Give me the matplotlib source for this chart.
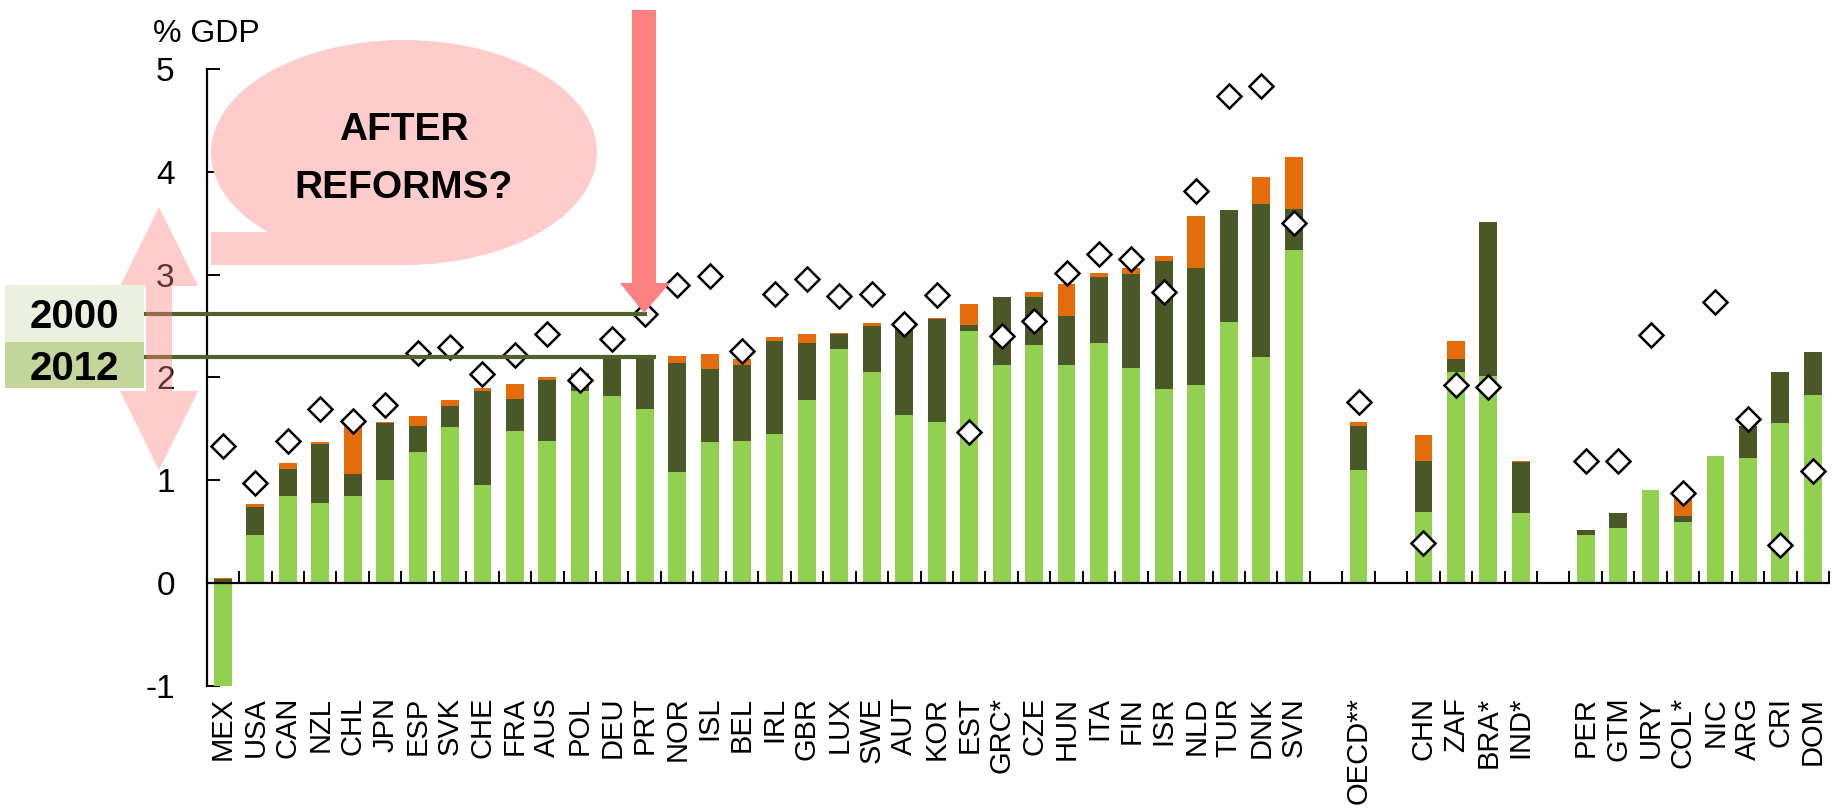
import numpy as np
import matplotlib.pyplot as plt
from matplotlib.patches import Ellipse, Polygon, Rectangle

plt.rcParams['font.family'] = ['Liberation Sans', 'DejaVu Sans']
plt.rcParams['axes.unicode_minus'] = False

# categories ('' = empty slot between groups)
labels = ['MEX', 'USA', 'CAN', 'NZL', 'CHL', 'JPN', 'ESP', 'SVK', 'CHE', 'FRA',
          'AUS', 'POL', 'DEU', 'PRT', 'NOR', 'ISL', 'BEL', 'IRL', 'GBR', 'LUX',
          'SWE', 'AUT', 'KOR', 'EST', 'GRC*', 'CZE', 'HUN', 'ITA', 'FIN', 'ISR',
          'NLD', 'TUR', 'DNK', 'SVN', '', 'OECD**', '', 'CHN', 'ZAF', 'BRA*',
          'IND*', '', 'PER', 'GTM', 'URY', 'COL*', 'NIC', 'ARG', 'CRI', 'DOM']

nan = np.nan
# light green segment
green = [-1.02, 0.47, 0.85, 0.78, 0.85, 1.00, 1.27, 1.52, 0.95, 1.48,
         1.38, 1.87, 1.82, 1.69, 1.08, 1.37, 1.38, 1.45, 1.78, 2.28,
         2.05, 1.63, 1.57, 2.45, 2.12, 2.31, 2.12, 2.33, 2.09, 1.89,
         1.93, 2.54, 2.20, 3.24, nan, 1.10, nan, 0.69, 2.05, 2.01,
         0.68, nan, 0.47, 0.53, 0.90, 0.59, 1.23, 1.22, 1.56, 1.83]
# dark green segment
dark = [0.04, 0.27, 0.26, 0.57, 0.21, 0.56, 0.26, 0.20, 0.92, 0.31,
        0.59, 0.15, 0.37, 0.51, 1.06, 0.71, 0.74, 0.90, 0.55, 0.14,
        0.45, 0.87, 1.00, 0.06, 0.66, 0.47, 0.48, 0.65, 0.92, 1.24,
        1.13, 1.09, 1.49, 0.40, nan, 0.43, nan, 0.50, 0.13, 1.50,
        0.50, nan, 0.04, 0.15, 0.00, 0.06, 0.00, 0.31, 0.49, 0.42]
# orange segment
orange = [0.01, 0.03, 0.06, 0.02, 0.50, 0.01, 0.09, 0.06, 0.03, 0.15,
          0.03, 0.02, 0.00, 0.00, 0.07, 0.15, 0.06, 0.04, 0.09, 0.01,
          0.03, 0.02, 0.01, 0.20, 0.00, 0.05, 0.31, 0.04, 0.05, 0.05,
          0.51, 0.00, 0.26, 0.50, nan, 0.04, nan, 0.25, 0.17, 0.00,
          0.01, nan, 0.00, 0.00, 0.00, 0.20, 0.00, 0.00, 0.00, 0.00]
# diamonds
diamonds = [1.33, 0.97, 1.38, 1.69, 1.58, 1.73, 2.24, 2.30, 2.03, 2.22,
            2.42, 1.97, 2.37, 2.62, 2.90, 2.99, 2.26, 2.81, 2.96, 2.79,
            2.81, 2.52, 2.80, 1.47, 2.40, 2.55, 3.02, 3.20, 3.15, 2.83,
            3.81, 4.74, 4.83, 3.50, nan, 1.76, nan, 0.39, 1.93, 1.91,
            nan, nan, 1.19, 1.19, 2.41, 0.87, 2.73, 1.59, 0.37, 1.09]

green = np.array(green)
dark = np.array(dark)
orange = np.array(orange)
diamonds = np.array(diamonds)

W, H = 1841, 811
def fx(px):
    return px / W
def fy(py):
    return 1 - py / H

fig = plt.figure(figsize=(W / 100, H / 100), dpi=100)
ax = fig.add_axes([fx(206.7), fy(685.7), fx(1829) - fx(206.7), fy(69) - fy(685.7)])

x = np.arange(len(labels))
base = np.maximum(green, 0)
ax.bar(x, green, width=0.55, color='#92D050', zorder=2)
ax.bar(x, dark, bottom=base, width=0.55, color='#4A5828', zorder=2)
ax.bar(x, orange, bottom=base + dark, width=0.55, color='#E46C0A', zorder=2)
ax.plot(x, diamonds, ls='none', marker='D', ms=12.5, mfc='white', mec='black', mew=1.8, zorder=4)

ax.set_xlim(-0.5, len(labels) - 0.5)
ax.set_ylim(-1, 5)
for s in ['top', 'right']:
    ax.spines[s].set_visible(False)
ax.spines['bottom'].set_position(('data', 0))
ax.spines['bottom'].set_linewidth(1.6)
ax.spines['left'].set_linewidth(1.6)

ax.set_xticks(x, labels, rotation=90, fontsize=21)
ax.tick_params(axis='x', which='major', length=0, pad=82)
ax.set_xticks(np.arange(len(labels) + 1) - 0.5, minor=True)
ax.tick_params(axis='x', which='minor', direction='in', length=8.5, width=1.4)
ax.set_yticks(range(-1, 6))
ax.tick_params(axis='y', direction='in', length=9, width=1.4, pad=23, labelsize=24)

fig.text(fx(153), fy(42), '% GDP', fontsize=23, ha='left', va='baseline')

# speech bubble
pink = '#FFCCCC'
fig.add_artist(Ellipse((fx(404), fy(152.5)), 386 / W, 225 / H, transform=fig.transFigure,
                       color=pink, lw=0, zorder=1))
tail = [(211, 232), (268, 232), (300, 215), (404, 215), (404, 265), (211, 265)]
fig.add_artist(Polygon([(fx(a), fy(b)) for a, b in tail], closed=True, transform=fig.transFigure,
                       color=pink, lw=0, zorder=1))
fig.text(fx(404), fy(140), 'AFTER', weight='bold', fontsize=28,
         ha='center', va='baseline', zorder=2)
fig.text(fx(404), fy(198), 'REFORMS?', weight='bold', fontsize=28,
         ha='center', va='baseline', zorder=2)

# red arrow pointing down at PRT
red_arrow = [(632, 10), (656, 10), (656, 283), (670, 283), (644, 313), (620, 283), (632, 283)]
fig.add_artist(Polygon([(fx(a), fy(b)) for a, b in red_arrow], closed=True, transform=fig.transFigure,
                       color='#FF8080', lw=0, zorder=3))

# pink double arrow on the left
dbl = [(159, 207), (198, 286), (172, 286), (172, 391), (198, 391), (159, 470),
       (120, 391), (146, 391), (146, 286), (120, 286)]
fig.add_artist(Polygon([(fx(a), fy(b)) for a, b in dbl], closed=True, transform=fig.transFigure,
                       color='#FF8080', alpha=0.4, lw=0, zorder=2))

# 2000 / 2012 boxes
fig.add_artist(Rectangle((fx(5), fy(342)), 139 / W, 57 / H, transform=fig.transFigure,
                         color='#EBF1DE', lw=0, zorder=3))
fig.add_artist(Rectangle((fx(5), fy(388)), 139 / W, 46 / H, transform=fig.transFigure,
                         color='#C3D69B', lw=0, zorder=3))
fig.text(fx(74), fy(328), '2000', weight='bold', fontsize=29,
         ha='center', va='baseline', zorder=4)
fig.text(fx(74), fy(380), '2012', weight='bold', fontsize=29,
         ha='center', va='baseline', zorder=4)

# level lines tied to PRT
i_prt = labels.index('PRT')
x_left = ax.transData.inverted().transform(fig.transFigure.transform((fx(144), 0)))[0]
y2000 = diamonds[i_prt]
y2012 = base[i_prt] + dark[i_prt] + orange[i_prt]
ax.plot([x_left, i_prt], [y2000, y2000], color='#4F6228', lw=3, clip_on=False, zorder=5)
ax.plot([x_left, i_prt + 0.275], [y2012, y2012], color='#4F6228', lw=3, clip_on=False, zorder=5)

fig.savefig('out.png', dpi=100)
